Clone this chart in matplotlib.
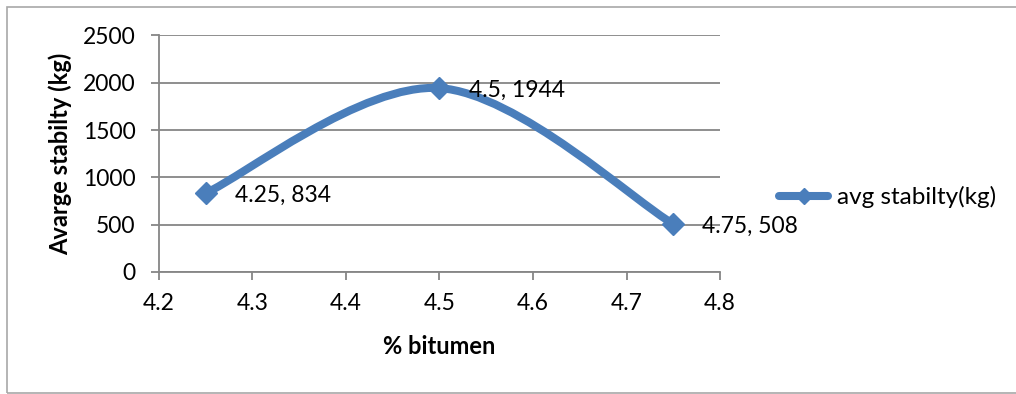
import matplotlib
matplotlib.use("Agg")
import matplotlib.pyplot as plt
from matplotlib.path import Path
from matplotlib.patches import PathPatch, Rectangle
from matplotlib.lines import Line2D

# Marshall test results
bitumen_pct = [4.25, 4.5, 4.75]
avg_stability = [834, 1944, 508]
x_ticks = [4.2, 4.3, 4.4, 4.5, 4.6, 4.7, 4.8]
y_ticks = [0, 500, 1000, 1500, 2000, 2500]
series_name = "avg stabilty(kg)"

LINE_COLOR = "#4A7EBB"
GRID_COLOR = "#868686"
FONT = "Lato"

plt.rcParams["font.family"] = [FONT, "DejaVu Sans"]

W, H = 1016, 394
fig = plt.figure(figsize=(W / 100, H / 100), dpi=100)
ax = fig.add_axes([159 / W, 1 - 272 / H, 561 / W, 236.5 / H])

# outer chart frame
fig.patches.append(Rectangle((7 / W, 1.5 / H), 1.2, 386 / H,
                             transform=fig.transFigure, fill=False,
                             edgecolor="#a8a8a8", linewidth=1.2))

# smoothed line: Catmull-Rom style cubic Bezier segments between points
pts = list(zip(bitumen_pct, avg_stability))
verts = [pts[0]]
codes = [Path.MOVETO]
n = len(pts)
for i in range(n - 1):
    p0 = pts[i - 1] if i > 0 else pts[i]
    p1 = pts[i]
    p2 = pts[i + 1]
    p3 = pts[i + 2] if i + 2 < n else pts[i + 1]
    c1 = (p1[0] + (p2[0] - p0[0]) / 6, p1[1] + (p2[1] - p0[1]) / 6)
    c2 = (p2[0] - (p3[0] - p1[0]) / 6, p2[1] - (p3[1] - p1[1]) / 6)
    verts += [c1, c2, p2]
    codes += [Path.CURVE4] * 3
ax.add_patch(PathPatch(Path(verts, codes), facecolor="none",
                       edgecolor=LINE_COLOR, linewidth=5.8,
                       capstyle="round", joinstyle="round", zorder=3))
ax.plot(bitumen_pct, avg_stability, linestyle="none", marker="D",
        markersize=11.5, color=LINE_COLOR, zorder=4)

for xv, yv in zip(bitumen_pct, avg_stability):
    ax.annotate(f"{xv:g}, {yv}", (xv, yv), xytext=(21, -1.5),
                textcoords="offset points", ha="left", va="center",
                fontsize=16.5, color="black", zorder=5)

ax.set_xlim(4.2, 4.8)
ax.set_ylim(0, 2500)
ax.set_xticks(x_ticks)
ax.set_yticks(y_ticks)
ax.set_xticklabels([f"{t:g}" for t in x_ticks])
ax.set_yticklabels([str(t) for t in y_ticks])
ax.grid(axis="y", color=GRID_COLOR, linewidth=1.3)
ax.set_axisbelow(True)
for side in ("top", "right"):
    ax.spines[side].set_visible(False)
for side in ("left", "bottom"):
    ax.spines[side].set_color(GRID_COLOR)
    ax.spines[side].set_linewidth(1.3)
ax.tick_params(axis="both", direction="out", length=5.8, width=1.3,
               color=GRID_COLOR, labelsize=16.5)
ax.tick_params(axis="y", pad=11)
ax.tick_params(axis="x", pad=9)

ax.set_xlabel("% bitumen", fontsize=17, fontweight="bold")
ax.set_ylabel("Avarge stabilty (kg)", fontsize=17, fontweight="bold")
ax.xaxis.label.set_va("center")
ax.yaxis.label.set_va("center")
ax.xaxis.set_label_coords(0.5, (272 - 346) / 236.5)
ax.yaxis.set_label_coords((60 - 159) / 561, 0.5)

handle = Line2D([], [], color=LINE_COLOR, linewidth=5.8, marker="D",
                markersize=8, solid_capstyle="round")
fig.legend([handle], [series_name], loc="center left",
           bbox_to_anchor=(779 / W, 1 - 197 / H), frameon=False,
           fontsize=17.5, handlelength=2.02, handletextpad=0.37,
           borderpad=0, borderaxespad=0)

fig.savefig("out.png", dpi=100)
